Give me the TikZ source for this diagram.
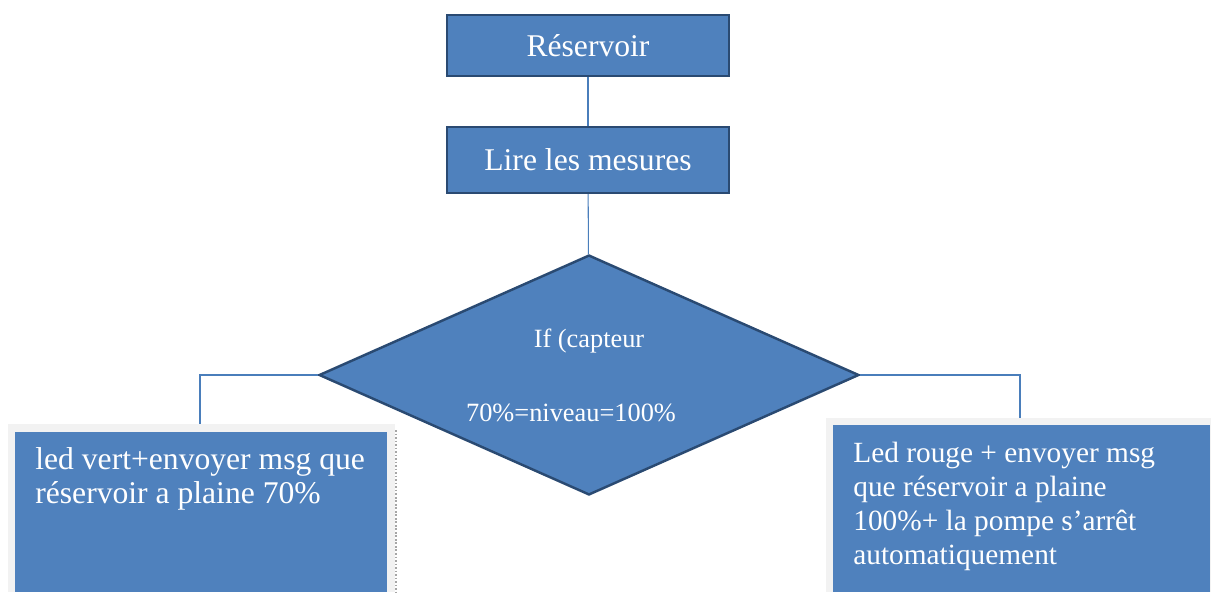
\documentclass[tikz,border=0pt]{standalone}
\usepackage{fontspec}
\setmainfont{Liberation Serif}
\usepackage{tikz}
\usetikzlibrary{shapes.geometric}
\definecolor{boxblue}{HTML}{4F81BD}
\definecolor{boxedge}{HTML}{2A4A72}
\definecolor{linkblue}{HTML}{4A7EBB}
\definecolor{framegray}{HTML}{F2F2F2}
\tikzset{
  topbox/.style={draw=boxedge, line width=1.3pt, fill=boxblue, text=white,
    minimum width=5.64cm, minimum height=1.22cm, font=\fontsize{18}{20}\selectfont},
  decision/.style={diamond, aspect=2.25, draw=boxedge, line width=1.4pt, fill=boxblue, text=white,
    minimum width=10.8cm, minimum height=4.8cm, inner sep=0pt, align=center,
    font=\fontsize{15}{18}\selectfont},
  msgbox/.style={fill=boxblue, text=white, anchor=north west, inner xsep=0.4cm,
    inner ysep=0.3cm, font=\fontsize{18}{19.6}\selectfont},
  conn/.style={draw=linkblue, line width=0.6pt}
}

\begin{document}
\begin{tikzpicture}[x=0.02cm,y=-0.02cm]
  \useasboundingbox (0,0) rectangle (1211,592);

  \node[topbox] at (588,45.5) (res) {Réservoir};
  \node[topbox, minimum height=1.32cm] at (588,160) (lire) {Lire les mesures};
  \node[decision] at (589,375) (test) {If (capteur\\[24pt]\hspace*{-0.72cm}70\%=niveau=100\%};

  \fill[framegray] (8,424) rectangle (395,592);
  \draw[gray!70, densely dotted, line width=1pt] (396,430) -- (396,592);
  \node[msgbox] at (15,432) (vert)
    {\parbox[t][2.6cm][t]{6.64cm}{led vert+envoyer msg que\\réservoir a plaine 70\%}};

  \fill[framegray] (826,418) rectangle (1211,592);
  \node[msgbox, inner ysep=0.34cm, font=\fontsize{16.7}{19.3}\selectfont] at (833,425) (rouge)
    {\parbox[t][2.66cm][t]{6.74cm}{Led rouge + envoyer msg\\que réservoir a plaine\\100\%+ la pompe s’arrêt\\automatiquement}};

  \coordinate (ltop) at (200,424);
  \coordinate (rtop) at (1020,418);
  \draw[conn] (res) -- (lire);
  \draw[conn] (lire) -- (test);
  \draw[conn] (test.west) -| (ltop);
  \draw[conn] (test.east) -| (rtop);

\end{tikzpicture}
\end{document}
